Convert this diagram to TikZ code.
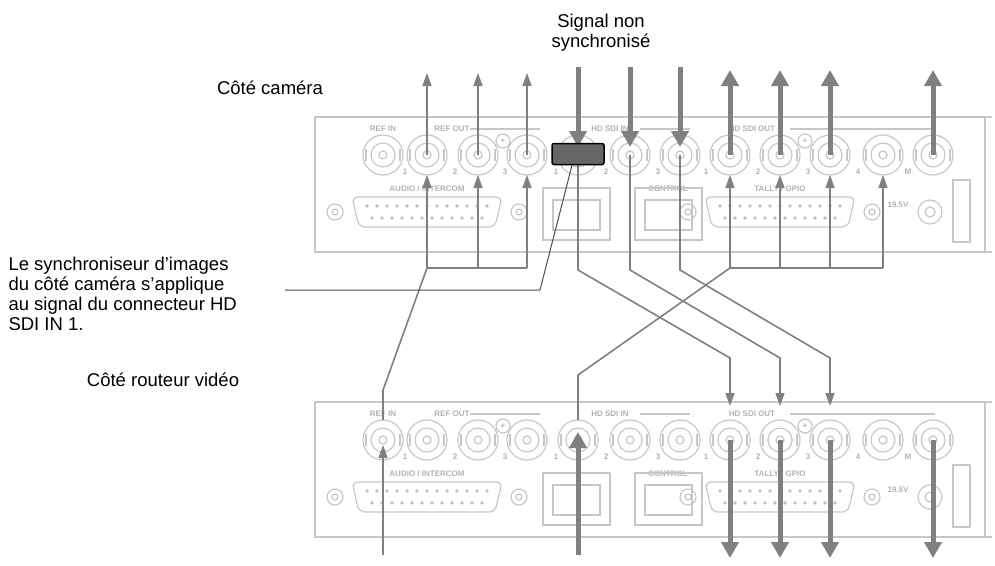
\documentclass[tikz,border=0pt]{standalone}
\usepackage{fontspec}
\setmainfont{Liberation Sans}
\usetikzlibrary{arrows.meta,calc}
\tikzset{
  panel/.style={draw=black!22,line width=1.2pt},
  plbl/.style={text=black!30,font=\fontsize{8}{9}\selectfont\bfseries},
  sig/.style={draw=black!50,line width=1.6pt,-{Triangle[width=9pt,length=13pt]}},
  wire/.style={draw=black!50,line width=1.6pt},
  fat/.style={draw=black!50,line width=5pt,-{Triangle[width=17pt,length=16pt]}},
  lbl/.style={font=\fontsize{18.5}{20}\selectfont,align=left},
  pics/rear/.style={code={
    \draw[panel] (315,-38) rectangle (985,97);
    \draw[panel] (985,-38) -- (992,-38) (985,97) -- (992,97);
    \foreach \x in {383,427,478,527,578,630,680,730,780,830,883,933}{
      \draw[panel] (\x,0) circle (20) (\x,0) circle (12) (\x,0) circle (4);
      \draw[panel] (\x-17,-6) -- (\x-17,6) (\x+17,-6) -- (\x+17,6);
    }
    \node[plbl] at (383,-26) {REF IN};
    \node[plbl] at (452,-26) {REF OUT};
    \draw[panel] (470,-26) -- (540,-26);
    \node[plbl] at (610,-26) {HD SDI IN};
    \draw[panel] (640,-26) -- (690,-26);
    \node[plbl] at (752,-26) {HD SDI OUT};
    \draw[panel] (790,-26) -- (935,-26);
    \draw[panel] (503,-14) circle (7) (805,-14) circle (7);
    \node[plbl] at (503,-14) {+};
    \node[plbl] at (805,-14) {+};
    \foreach \x/\t in {405/1,455/2,505/3,556/1,606/2,658/3,706/1,758/2,808/3,858/4,908/M}
      \node[plbl] at (\x,17) {\t};
    \node[plbl] at (427,34) {AUDIO / INTERCOM};
    \node[plbl] at (668,34) {CONTROL};
    \node[plbl] at (780,34) {TALLY / GPIO};
    \foreach \c in {427,780}{
      \draw[panel,rounded corners=6] (\c-75,42) -- (\c+75,42) -- (\c+68,72) -- (\c-68,72) -- cycle;
      \draw[panel] (\c-92,57) circle (8) (\c-92,57) circle (3) (\c+92,57) circle (8) (\c+92,57) circle (3);
      \foreach \i in {-6,...,6} \fill[black!25] (\c+\i*10,51) circle (1.8);
      \foreach \i in {-5.5,...,5.5} \fill[black!25] (\c+\i*10,63) circle (1.8);
    }
    \draw[panel] (543,33) rectangle (610,85) (553,45) rectangle (600,75);
    \draw[panel] (635,33) rectangle (702,85) (645,45) rectangle (692,75);
    \node[plbl] at (898,50) {19.5V};
    \draw[panel] (930,57) circle (12) (930,57) circle (5);
    \draw[panel] (953,25) rectangle (970,87);
  }}
}
\begin{document}
\begin{tikzpicture}[x=1pt,y=-1pt]
\useasboundingbox (0,0) rectangle (995,565);

%% panels
\pic at (0,155) {rear};
\pic at (0,440) {rear};
\foreach \x [count=\i] in {383,427,478,527,578,630,680,730,780,830,883,933}{
  \coordinate (t\i) at (\x,155);
  \coordinate (b\i) at (\x,440);
}

%% camera side
\foreach \i in {2,3,4}{
  \draw[sig] ($(t\i)+(0,113)$) -- ($(t\i)+(0,20)$);
  \draw[sig] (t\i) -- ($(t\i)+(0,-82)$);
}
\draw[wire] ($(t2)+(0,113)$) -- ($(t4)+(0,113)$);
\foreach \i in {8,9,10,11}
  \draw[sig] ($(t\i)+(0,113)$) -- ($(t\i)+(0,20)$);
\draw[wire] ($(t8)+(0,113)$) -- ($(t11)+(0,113)$);
\foreach \i in {8,9,10,12}
  \draw[fat] (t\i) -- ($(t\i)+(0,-85)$);
\foreach \i in {5,6,7}
  \draw[fat] ($(t\i)+(0,-88)$) -- ($(t\i)+(0,-8)$);

%% crossing wires
\draw[wire] ($(t2)+(0,113)$) -- ($(b1)+(0,-50)$) -- ($(b1)+(0,-20)$);
\draw[wire] ($(t8)+(0,113)$) -- ($(b5)+(0,-65)$) -- ($(b5)+(0,-20)$);
\foreach \i/\j in {5/8,6/9,7/10}
  \draw[sig] (t\i) -- ($(t\i)+(0,115)$) -- ($(b\j)+(0,-82)$) -- ($(b\j)+(0,-34)$);

%% synchroniser
\node[draw=black,fill=black!60,line width=1.5pt,rounded corners=2pt,minimum width=52pt,minimum height=21pt,inner sep=0pt] (sync) at (578,154) {};
\coordinate (lead) at (540,290);
\draw[draw=black!70,line width=1pt] (sync.south) ++(-6,0) -- (lead) -- (285,290);

%% router side
\draw[sig] ($(b1)+(0,115)$) -- ($(b1)+(0,5)$);
\draw[fat] ($(b5)+(0,115)$) -- ($(b5)+(0,-8)$);
\foreach \i in {8,9,10,12}
  \draw[fat] (b\i) -- ($(b\i)+(0,118)$);

%% labels
\node[lbl,align=center] (signal) at (601,33) {Signal non\\synchronisé};
\node[lbl] (cam) at (270,88) {Côté caméra};
\node[lbl,anchor=north west] (note) at (5,254) {Le synchroniseur d'images\\du côté caméra s'applique\\au signal du connecteur HD\\SDI IN 1.};
\node[lbl] (rout) at (163,380) {Côté routeur vidéo};
\end{tikzpicture}
\end{document}
